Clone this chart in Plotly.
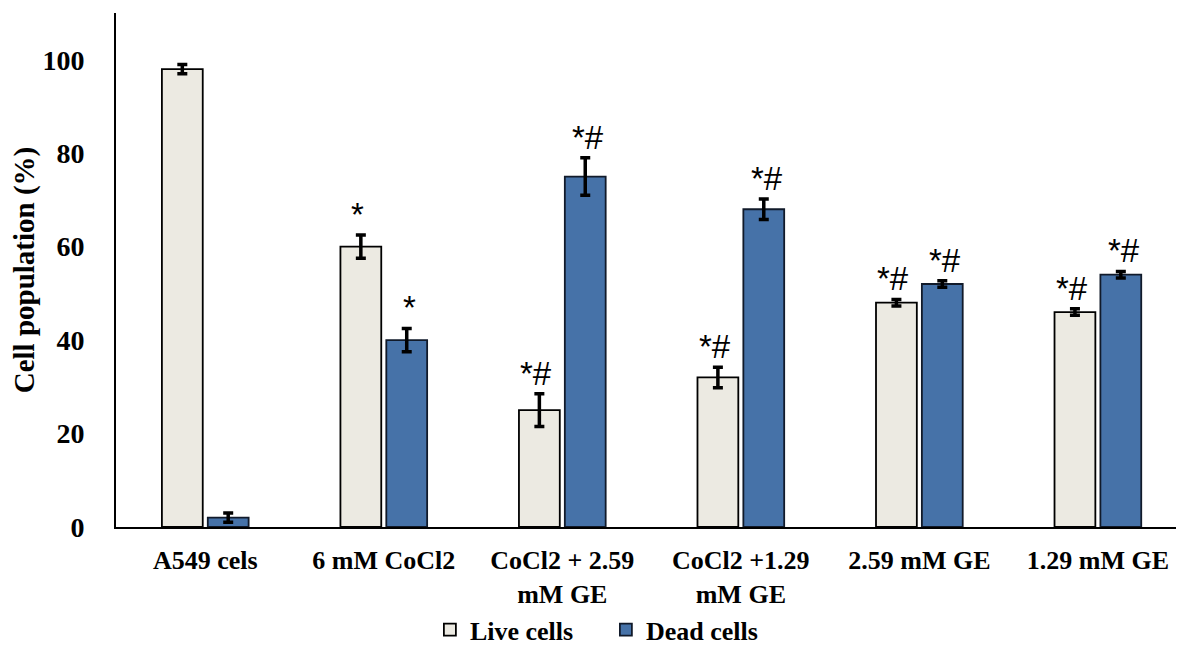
import plotly.graph_objects as go

categories = ["A549 cels", "6 mM CoCl2", "CoCl2 + 2.59<br>mM GE", "CoCl2 +1.29<br>mM GE", "2.59 mM GE", "1.29 mM GE"]
live = [98, 60, 25, 32, 48, 46]
live_err = [1.0, 2.5, 3.5, 2.2, 0.7, 0.7]
dead = [2, 40, 75, 68, 52, 54]
dead_err = [1.0, 2.5, 4.0, 2.2, 0.7, 0.7]
live_marks = ["", "*", "*#", "*#", "*#", "*#"]
dead_marks = ["", "*", "*#", "*#", "*#", "*#"]
y_ticks = [0, 20, 40, 60, 80, 100]

serif = "Liberation Serif"
fig = go.Figure()
fig.add_trace(go.Bar(
    name="Live cells", x=categories, y=live,
    marker=dict(color="#ECEAE2", line=dict(color="black", width=1.8)),
    error_y=dict(type="data", array=live_err, color="black", thickness=3.5, width=5),
))
fig.add_trace(go.Bar(
    name="Dead cells", x=categories, y=dead,
    marker=dict(color="#4672A8", line=dict(color="#111a2a", width=1.8)),
    error_y=dict(type="data", array=dead_err, color="black", thickness=3.5, width=5),
))

for i, c in enumerate(categories):
    for vals, errs, marks, shift in ((live, live_err, live_marks, -26), (dead, dead_err, dead_marks, 26)):
        if marks[i]:
            fig.add_annotation(
                x=c, y=vals[i] + errs[i], text=marks[i], showarrow=False,
                xref="x", yref="y", yanchor="bottom", xshift=shift, yshift=0,
                font=dict(family="Liberation Sans", size=33, color="black"),
            )

fig.update_layout(
    width=1176, height=643,
    margin=dict(l=108, r=4, t=5, b=124, autoexpand=False),
    paper_bgcolor="white", plot_bgcolor="white",
    barmode="group", bargap=0.486, bargroupgap=0.11,
    showlegend=True,
    legend=dict(
        orientation="h", x=0.295, xanchor="left", y=-0.2, yanchor="middle",
        font=dict(family=serif, size=26, color="black", weight="bold"),
        itemwidth=30, traceorder="normal",
        entrywidth=131, entrywidthmode="pixels",
    ),
    font=dict(family=serif, color="black"),
)
fig.update_xaxes(
    showline=True, linecolor="black", linewidth=2, ticks="",
    tickfont=dict(family=serif, size=26, color="black", weight="bold"),
    ticklabelstandoff=9, range=[-0.5, 5.46], showgrid=False,
)
fig.update_yaxes(
    showline=True, linecolor="black", linewidth=2, ticks="",
    range=[0, 110], tickvals=y_ticks, showgrid=False, zeroline=False,
    tickfont=dict(family=serif, size=28, color="black", weight="bold"),
    ticklabelstandoff=24,
    title=dict(text="<b>Cell population (%)</b>", font=dict(family=serif, size=29, color="black"), standoff=10),
)
fig.write_html("out.html")
